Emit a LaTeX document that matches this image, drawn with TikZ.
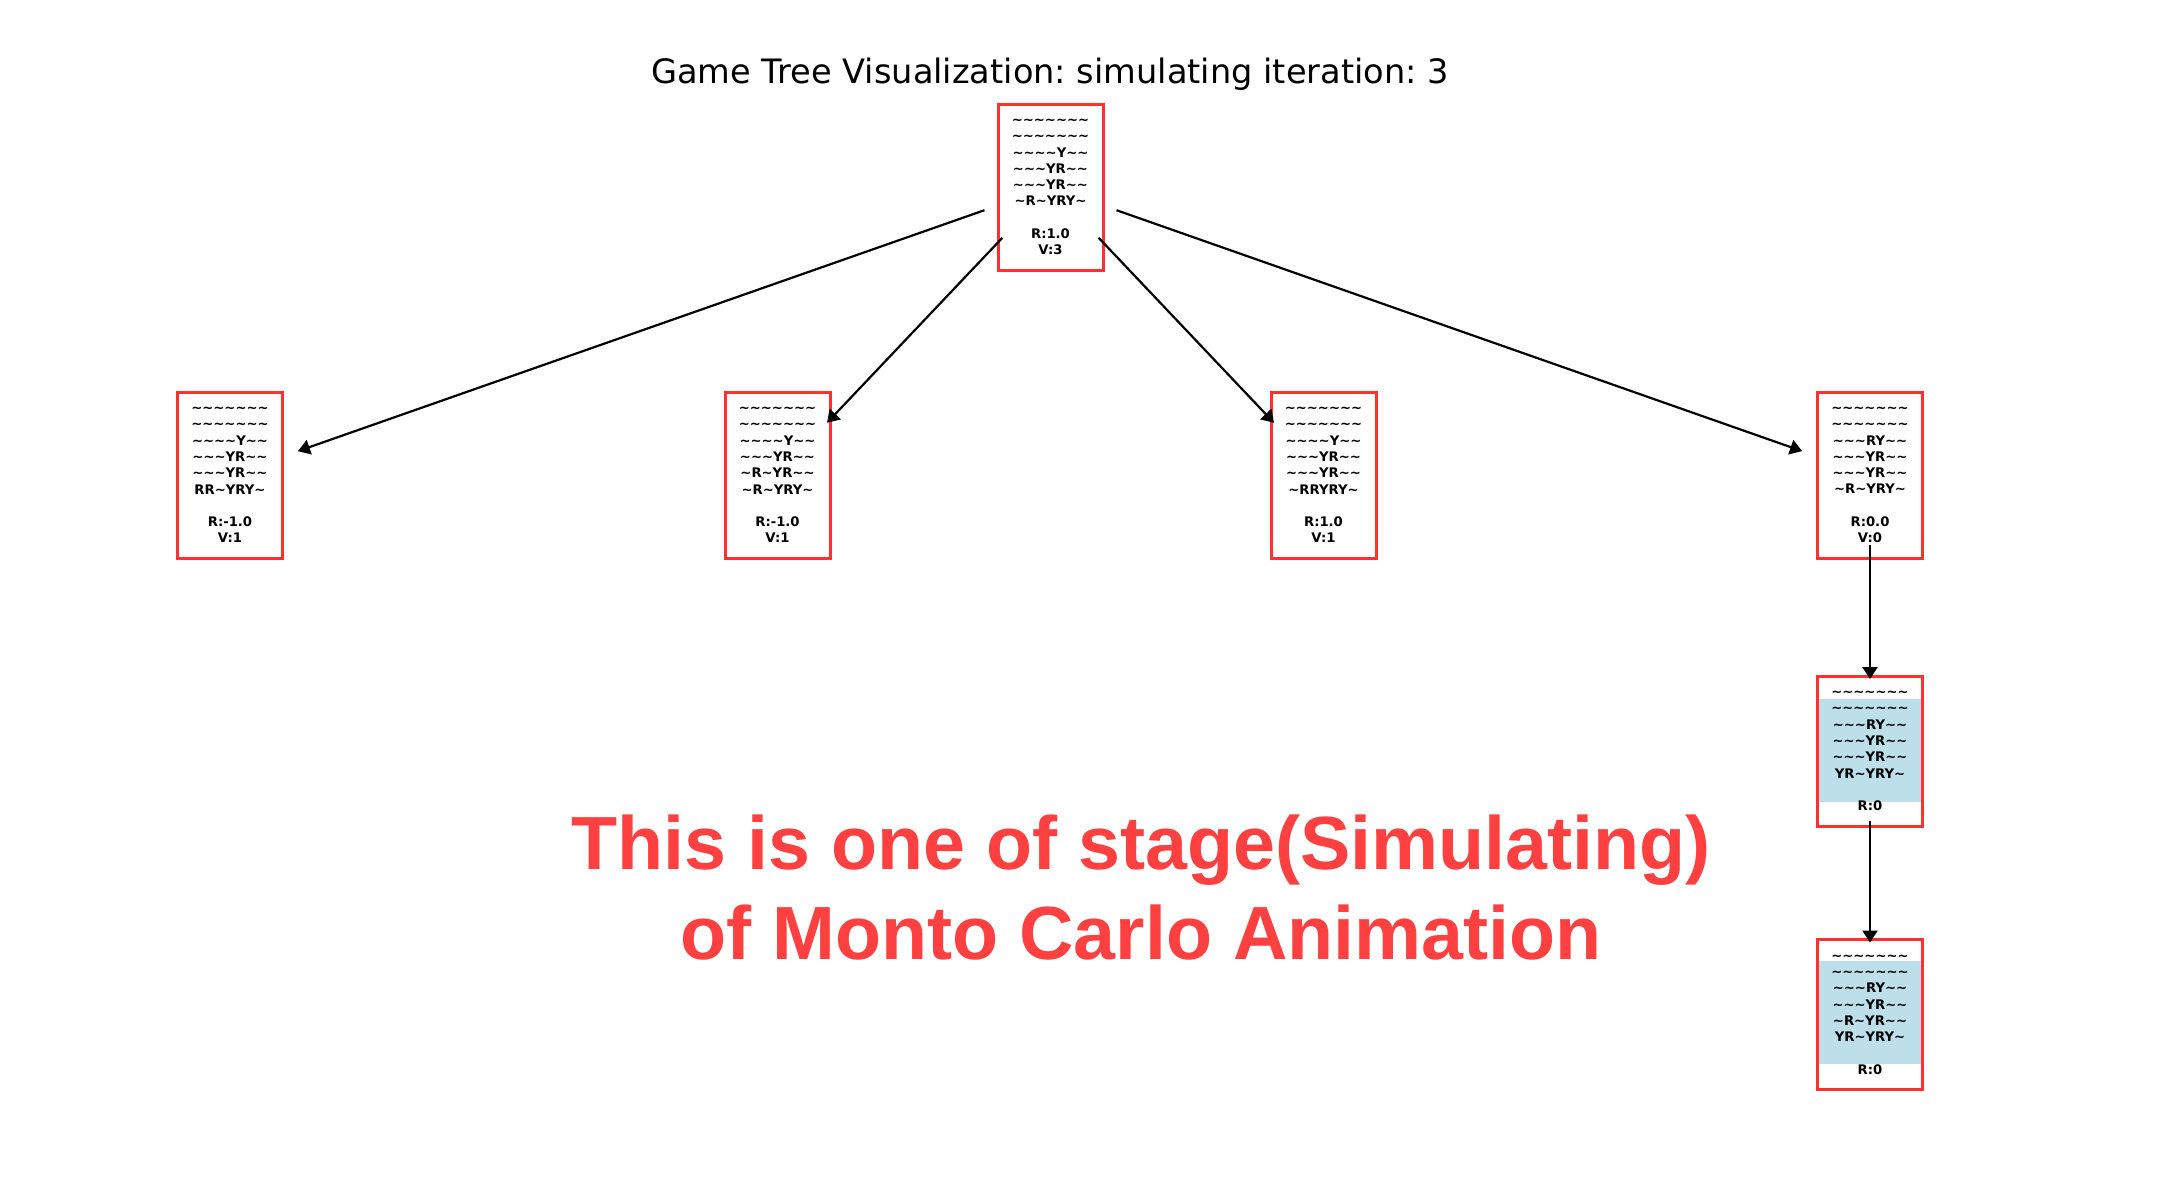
\documentclass[tikz,border=0pt]{standalone}
\usepackage{fontspec}
\setmainfont{DejaVu Sans}
\newfontfamily\bigfont{Liberation Sans}
\usetikzlibrary{arrows.meta,calc}
\frenchspacing
\definecolor{boxred}{RGB}{255,48,48}
\definecolor{txtred}{RGB}{255,64,64}
\definecolor{simblue}{RGB}{188,223,233}
\newcommand\rw[1]{\detokenize{#1}}
\pgfdeclarelayer{bg}
\pgfsetlayers{bg,main}
\tikzset{
  state/.style={draw=boxred, line width=1.5pt, inner sep=0pt, minimum width=52.5pt,
    minimum height=83pt, align=center,
    font=\fontsize{6.6pt}{8.15pt}\selectfont\bfseries},
  simstate/.style={state, minimum height=75pt},
  edge/.style={line width=1.1pt, -{Triangle[length=6pt,width=7.5pt]},
    shorten <=35pt, shorten >=36pt},
  simfill/.style={fill=simblue},
  bigtext/.style={anchor=base, text=txtred, font=\bigfont\bfseries\fontsize{37.7pt}{45pt}\selectfont}
}
\begin{document}
\frenchspacing
\begin{tikzpicture}[x=0.5pt,y=-0.5pt]
\useasboundingbox (0,0) rectangle (2180,1190);

\node[anchor=base, font=\fontsize{16.8pt}{20pt}\selectfont] (title) at (1050,83)
  {Game Tree Visualization: simulating iteration: 3};

\node[state] (root) at (1050.5,187) {\rw{~~~~~~~}\\\rw{~~~~~~~}\\\rw{~~~~Y~~}\\\rw{~~~YR~~}\\\rw{~~~YR~~}\\\rw{~R~YRY~}\\[8.15pt]R:1.0\\V:3};

\node[state] (n1) at (230,475) {\rw{~~~~~~~}\\\rw{~~~~~~~}\\\rw{~~~~Y~~}\\\rw{~~~YR~~}\\\rw{~~~YR~~}\\\rw{RR~YRY~}\\[8.15pt]R:-1.0\\V:1};
\node[state] (n2) at (777.5,475) {\rw{~~~~~~~}\\\rw{~~~~~~~}\\\rw{~~~~Y~~}\\\rw{~~~YR~~}\\\rw{~R~YR~~}\\\rw{~R~YRY~}\\[8.15pt]R:-1.0\\V:1};
\node[state] (n3) at (1323.5,475) {\rw{~~~~~~~}\\\rw{~~~~~~~}\\\rw{~~~~Y~~}\\\rw{~~~YR~~}\\\rw{~~~YR~~}\\\rw{~RRYRY~}\\[8.15pt]R:1.0\\V:1};
\node[state] (n4) at (1870,475) {\rw{~~~~~~~}\\\rw{~~~~~~~}\\\rw{~~~RY~~}\\\rw{~~~YR~~}\\\rw{~~~YR~~}\\\rw{~R~YRY~}\\[8.15pt]R:0.0\\V:0};

\node[simstate] (n5) at (1870,751) {\rw{~~~~~~~}\\\rw{~~~~~~~}\\\rw{~~~RY~~}\\\rw{~~~YR~~}\\\rw{~~~YR~~}\\\rw{YR~YRY~}\\[8.15pt]R:0};
\node[simstate] (n6) at (1870,1014.5) {\rw{~~~~~~~}\\\rw{~~~~~~~}\\\rw{~~~RY~~}\\\rw{~~~YR~~}\\\rw{~R~YR~~}\\\rw{YR~YRY~}\\[8.15pt]R:0};

\begin{pgfonlayer}{bg}
  \fill[simfill] ($(n5.north west)+(0,24)$) rectangle ($(n5.north east)+(0,127)$);
  \fill[simfill] ($(n6.north west)+(0,23)$) rectangle ($(n6.north east)+(0,126)$);
\end{pgfonlayer}

\draw[edge] (root.center) -- (n1.center);
\draw[edge] (root.center) -- (n2.center);
\draw[edge] (root.center) -- (n3.center);
\draw[edge] (root.center) -- (n4.center);
\draw[edge] (n4.center) -- (n5.center);
\draw[edge] (n5.center) -- (n6.center);

\node[bigtext] (big1) at (1141,869) {This is one of stage(Simulating)};
\node[bigtext] (big2) at (1141,959) {of Monto Carlo Animation};
\end{tikzpicture}
\end{document}
